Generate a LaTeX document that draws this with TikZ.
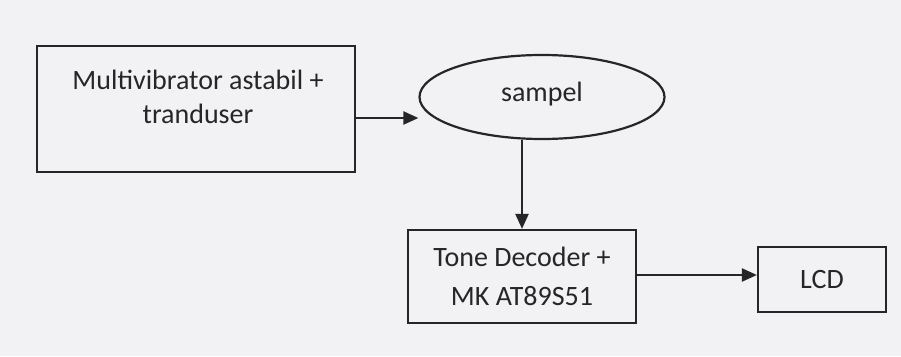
\documentclass[tikz,border=0pt]{standalone}
\usepackage{fontspec}
\setmainfont{Carlito}
\usepackage{tikz}
\usetikzlibrary{arrows.meta,shapes.geometric}

\definecolor{paper}{RGB}{242,242,245}
\definecolor{ink}{RGB}{38,38,40}

\begin{document}
\begin{tikzpicture}[x=1pt, y=-1pt, every node/.style={font=\fontsize{28}{34}\selectfont, text=ink},
    blok/.style={draw=ink, line width=2.2pt, rectangle, inner sep=0pt},
    elips/.style={draw=ink, line width=2.2pt, ellipse, inner sep=0pt},
    panah/.style={draw=ink, line width=2.2pt, -{Triangle[length=15pt, width=13pt]}}]
  % kertas
  \fill[paper] (0,0) rectangle (901,356);
  \useasboundingbox (0,0) rectangle (901,356);

  % blok-blok
  \node[blok, minimum width=318, minimum height=126] (multi) at (196,109) {};
  \node[align=center] (multi-t) at (198,97) {Multivibrator astabil +\\tranduser};
  \node[elips, minimum width=245, minimum height=84] (sampel) at (542,97) {};
  \node (sampel-t) at (542,94) {sampel};
  \node[blok, minimum width=228, minimum height=93, align=center,
        font=\fontsize{28}{39}\selectfont] (dekoder) at (522,276.5) {Tone Decoder +\\MK AT89S51};
  \node[blok, minimum width=128, minimum height=65] (lcd) at (822,279.5) {LCD};

  % panah
  \draw[panah] (multi.east |- 0,118) -- (sampel.west |- 0,118);
  \draw[panah] (dekoder.north |- sampel.south) -- (dekoder.north);
  \draw[panah] (dekoder.east |- 0,275) -- (lcd.west |- 0,275);
\end{tikzpicture}
\end{document}
